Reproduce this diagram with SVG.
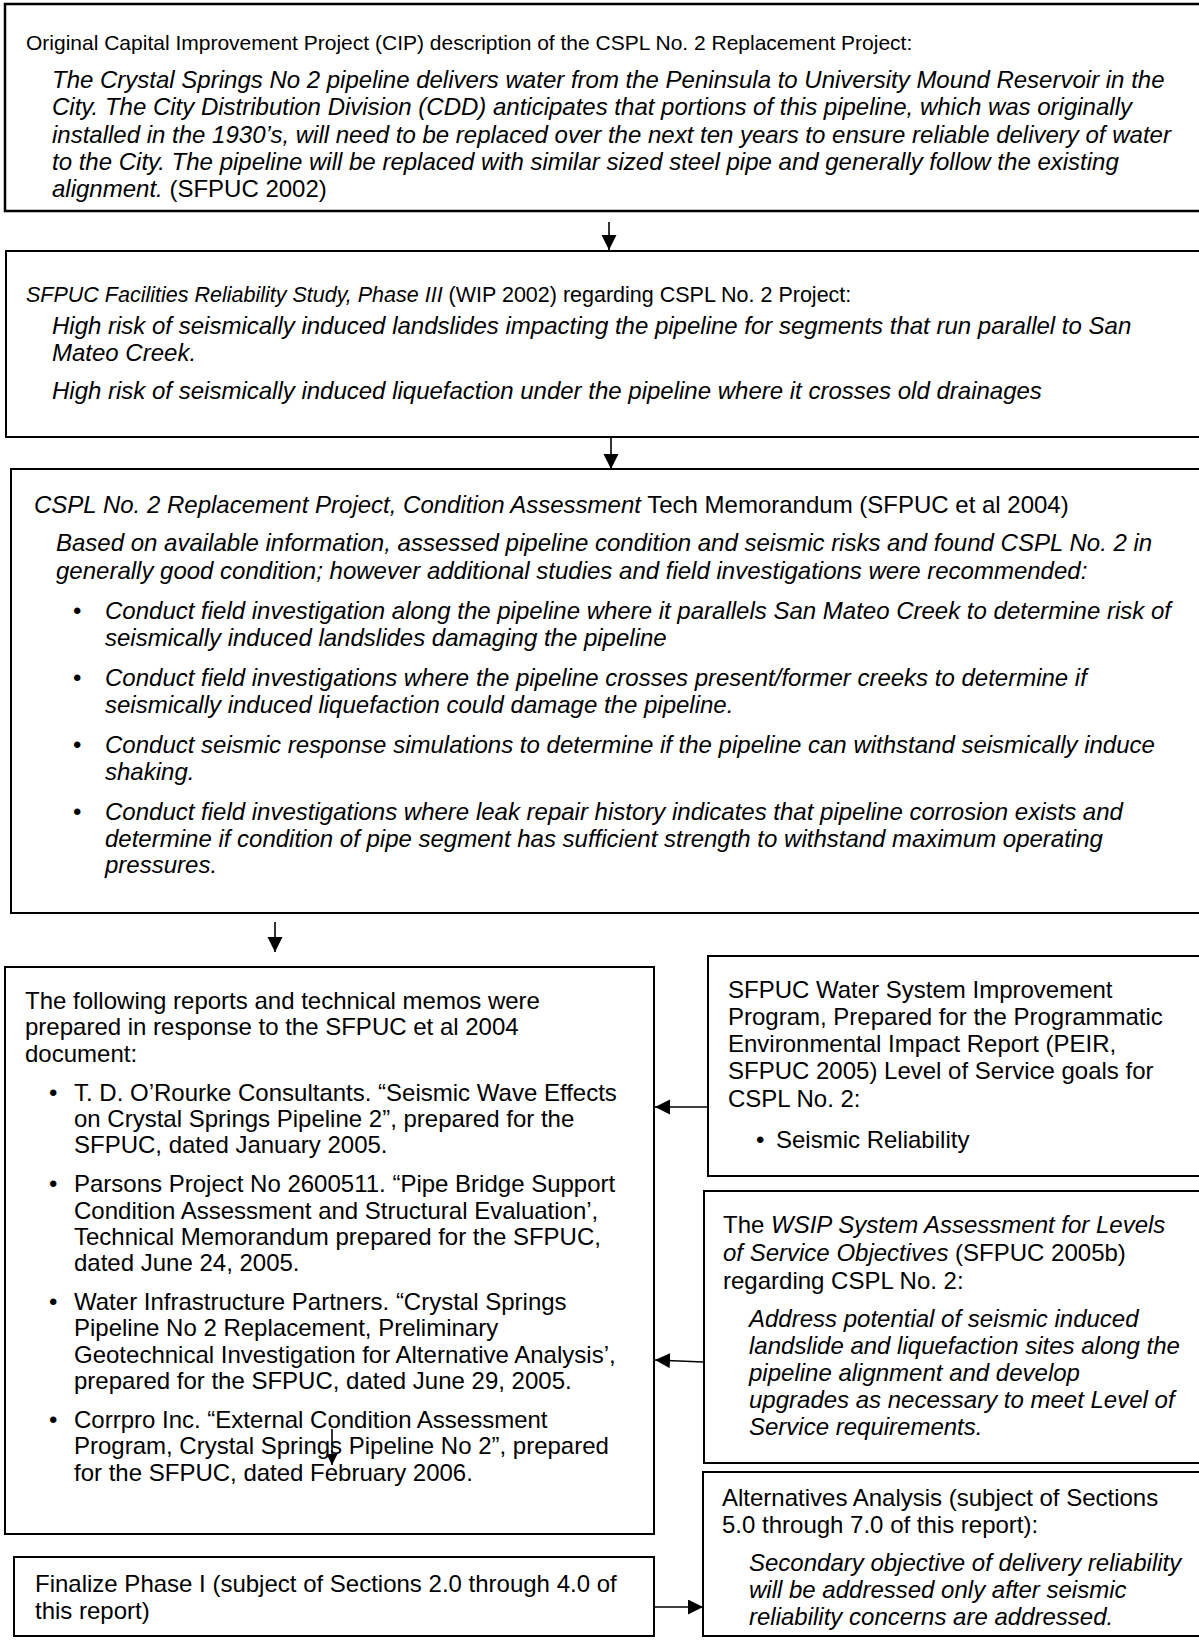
<svg xmlns="http://www.w3.org/2000/svg" width="1199" height="1646" viewBox="0 0 1199 1646">
<style>
.box{fill:#fff;stroke:#000;stroke-width:2}
.t{font-family:"Liberation Sans",Arial,sans-serif;font-size:24px;fill:#000}
.i{font-style:italic}
.conn{stroke:#000;stroke-width:1.6;fill:none}
</style>
<defs>
<marker id="ah" markerUnits="userSpaceOnUse" markerWidth="16" markerHeight="16" refX="15" refY="7.5" orient="auto">
<path d="M0,0 L15,7.5 L0,15 z" fill="#000"/>
</marker>
<marker id="ahs" markerUnits="userSpaceOnUse" markerWidth="12" markerHeight="12" refX="11" refY="5.5" orient="auto">
<path d="M0,0 L11,5.5 L0,11 z" fill="#000"/>
</marker>
</defs>
<rect width="1199" height="1646" fill="#fff"/>

<g id="node-cip">
<rect class="box" x="5" y="4" width="1205" height="207" style="stroke-width:2.5"/>
<text class="t" x="26" y="50" style="font-size:21px">Original Capital Improvement Project (CIP) description of the CSPL No. 2 Replacement Project:</text>
<text class="t i" x="52" y="88">The Crystal Springs No 2 pipeline delivers water from the Peninsula to University Mound Reservoir in the</text>
<text class="t i" x="52" y="115.3">City. The City Distribution Division (CDD) anticipates that portions of this pipeline, which was originally</text>
<text class="t i" x="52" y="142.6">installed in the 1930’s, will need to be replaced over the next ten years to ensure reliable delivery of water</text>
<text class="t i" x="52" y="170">to the City. The pipeline will be replaced with similar sized steel pipe and generally follow the existing</text>
<text class="t" x="52" y="197"><tspan class="i">alignment.</tspan> (SFPUC 2002)</text>
</g>

<g id="node-reliability-study">
<rect class="box" x="6" y="251" width="1205" height="186"/>
<text class="t" x="26" y="302" style="font-size:21.5px"><tspan class="i">SFPUC Facilities Reliability Study, Phase III</tspan> (WIP 2002) regarding CSPL No. 2 Project:</text>
<text class="t i" x="52" y="334">High risk of seismically induced landslides impacting the pipeline for segments that run parallel to San</text>
<text class="t i" x="52" y="361">Mateo Creek.</text>
<text class="t i" x="52" y="399">High risk of seismically induced liquefaction under the pipeline where it crosses old drainages</text>
</g>

<g id="node-condition-assessment">
<rect class="box" x="11" y="469" width="1200" height="444"/>
<text class="t" x="34" y="513"><tspan class="i">CSPL No. 2 Replacement Project, Condition Assessment</tspan> Tech Memorandum (SFPUC et al 2004)</text>
<text class="t i" x="56" y="551">Based on available information, assessed pipeline condition and seismic risks and found CSPL No. 2 in</text>
<text class="t i" x="56" y="579">generally good condition; however additional studies and field investigations were recommended:</text>
<text class="t" x="73" y="619">•</text>
<text class="t i" x="105" y="619">Conduct field investigation along the pipeline where it parallels San Mateo Creek to determine risk of</text>
<text class="t i" x="105" y="646">seismically induced landslides damaging the pipeline</text>
<text class="t" x="73" y="686">•</text>
<text class="t i" x="105" y="686">Conduct field investigations where the pipeline crosses present/former creeks to determine if</text>
<text class="t i" x="105" y="713">seismically induced liquefaction could damage the pipeline.</text>
<text class="t" x="73" y="753">•</text>
<text class="t i" x="105" y="753">Conduct seismic response simulations to determine if the pipeline can withstand seismically induce</text>
<text class="t i" x="105" y="780">shaking.</text>
<text class="t" x="73" y="820">•</text>
<text class="t i" x="105" y="820">Conduct field investigations where leak repair history indicates that pipeline corrosion exists and</text>
<text class="t i" x="105" y="847">determine if condition of pipe segment has sufficient strength to withstand maximum operating</text>
<text class="t i" x="105" y="873">pressures.</text>
</g>

<g id="node-reports">
<rect class="box" x="5" y="967" width="649" height="567"/>
<text class="t" x="25" y="1009">The following reports and technical memos were</text>
<text class="t" x="25" y="1035.3">prepared in response to the SFPUC et al 2004</text>
<text class="t" x="25" y="1061.6">document:</text>
<text class="t" x="49" y="1100.6">•</text>
<text class="t" x="74" y="1100.6">T. D. O’Rourke Consultants. “Seismic Wave Effects</text>
<text class="t" x="74" y="1126.9">on Crystal Springs Pipeline 2”, prepared for the</text>
<text class="t" x="74" y="1153.2">SFPUC, dated January 2005.</text>
<text class="t" x="49" y="1192.2">•</text>
<text class="t" x="74" y="1192.2">Parsons Project No 2600511. “Pipe Bridge Support</text>
<text class="t" x="74" y="1218.5">Condition Assessment and Structural Evaluation’,</text>
<text class="t" x="74" y="1244.8">Technical Memorandum prepared for the SFPUC,</text>
<text class="t" x="74" y="1271.1">dated June 24, 2005.</text>
<text class="t" x="49" y="1310.1">•</text>
<text class="t" x="74" y="1310.1">Water Infrastructure Partners. “Crystal Springs</text>
<text class="t" x="74" y="1336.4">Pipeline No 2 Replacement, Preliminary</text>
<text class="t" x="74" y="1362.7">Geotechnical Investigation for Alternative Analysis’,</text>
<text class="t" x="74" y="1389">prepared for the SFPUC, dated June 29, 2005.</text>
<text class="t" x="49" y="1428">•</text>
<text class="t" x="74" y="1428">Corrpro Inc. “External Condition Assessment</text>
<text class="t" x="74" y="1454.3">Program, Crystal Springs Pipeline No 2”, prepared</text>
<text class="t" x="74" y="1480.6">for the SFPUC, dated February 2006.</text>
</g>

<g id="node-wsip-peir">
<rect class="box" x="708" y="956" width="500" height="220"/>
<text class="t" x="728" y="998">SFPUC Water System Improvement</text>
<text class="t" x="728" y="1025">Program, Prepared for the Programmatic</text>
<text class="t" x="728" y="1052">Environmental Impact Report (PEIR,</text>
<text class="t" x="728" y="1079">SFPUC 2005) Level of Service goals for</text>
<text class="t" x="728" y="1107">CSPL No. 2:</text>
<text class="t" x="756" y="1148">•</text>
<text class="t" x="776" y="1148">Seismic Reliability</text>
</g>

<g id="node-wsip-assessment">
<rect class="box" x="704" y="1191" width="505" height="272"/>
<text class="t" x="723" y="1233">The <tspan class="i">WSIP System Assessment for Levels</tspan></text>
<text class="t" x="723" y="1261"><tspan class="i">of Service Objectives</tspan> (SFPUC 2005b)</text>
<text class="t" x="723" y="1289">regarding CSPL No. 2:</text>
<text class="t i" x="749" y="1327">Address potential of seismic induced</text>
<text class="t i" x="749" y="1354">landslide and liquefaction sites along the</text>
<text class="t i" x="749" y="1381">pipeline alignment and develop</text>
<text class="t i" x="749" y="1408">upgrades as necessary to meet Level of</text>
<text class="t i" x="749" y="1435">Service requirements.</text>
</g>

<g id="node-finalize">
<rect class="box" x="14" y="1557" width="640" height="79"/>
<text class="t" x="35" y="1592">Finalize Phase I (subject of Sections 2.0 through 4.0 of</text>
<text class="t" x="35" y="1619">this report)</text>
</g>

<g id="node-alternatives">
<rect class="box" x="703" y="1472" width="506" height="164"/>
<text class="t" x="722" y="1506">Alternatives Analysis (subject of Sections</text>
<text class="t" x="722" y="1533">5.0 through 7.0 of this report):</text>
<text class="t i" x="749" y="1571">Secondary objective of delivery reliability</text>
<text class="t i" x="749" y="1598">will be addressed only after seismic</text>
<text class="t i" x="749" y="1625">reliability concerns are addressed.</text>
</g>

<g id="connectors">
<line class="conn" x1="609" y1="222" x2="609" y2="250" marker-end="url(#ah)"/>
<line class="conn" x1="611" y1="438" x2="611" y2="469" marker-end="url(#ah)"/>
<line class="conn" x1="275" y1="922" x2="275" y2="952" marker-end="url(#ah)"/>
<line class="conn" x1="708" y1="1107" x2="655" y2="1107" marker-end="url(#ah)"/>
<line class="conn" x1="703" y1="1362" x2="655" y2="1360" marker-end="url(#ah)"/>
<line class="conn" x1="654" y1="1607" x2="703" y2="1607" marker-end="url(#ah)"/>
<line class="conn" x1="332" y1="1429" x2="332" y2="1465" marker-end="url(#ahs)"/>
</g>
</svg>
